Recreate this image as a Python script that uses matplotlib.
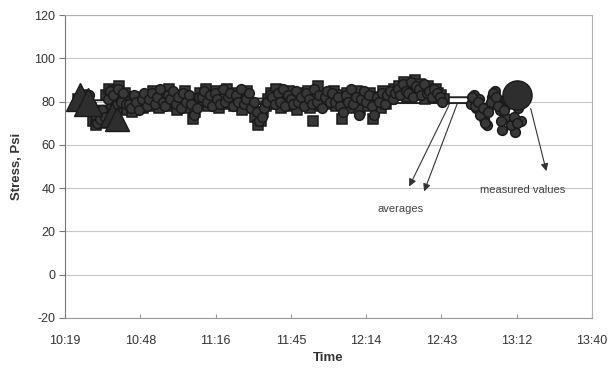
import matplotlib
matplotlib.use('Agg')
import matplotlib.pyplot as plt
from matplotlib.ticker import FixedLocator, FuncFormatter
import numpy as np

plt.rcParams['font.family'] = ['Liberation Sans', 'DejaVu Sans']
plt.rcParams['axes.unicode_minus'] = False

# datos (tiempo en minutos desde medianoche, esfuerzo en psi)
t_inicio = 624
medidos = [81, 78, 83, 76, 80, 77,
           71, 69, 73, 70, 75,
           83, 86, 79, 85, 77, 87, 82, 84,
           76, 80, 75, 82, 78, 81, 77, 79,
           83, 78, 85, 80, 77, 84, 81, 79, 86, 78, 82, 76, 83, 80, 85, 77, 81,
           72, 75, 79,
           84, 80, 86, 78, 83, 81, 85, 77, 82, 79, 86, 80, 83, 78, 84, 81, 76, 82, 85, 79, 77,
           73, 69, 71, 75, 78, 81,
           84, 79, 86, 81, 77, 83, 80, 85, 78, 82, 76, 84, 81, 79, 85, 77, 71, 80, 87, 78, 82, 79, 84,
           81, 85, 78, 83, 72, 80, 84, 77, 82, 79, 85, 76, 81, 83, 78, 84, 72, 80, 82, 77, 85, 79, 83, 81, 86,
           83, 87, 84, 89, 82, 86, 85, 90, 83, 88, 84, 81, 87, 85, 82, 86, 84, 83, 81]
# segunda serie, intercalada medio minuto despues
t_inicio2 = 624.5
medidos2 = [79, 82, 77, 80, 83, 75,
            74, 70, 72, 76, 73,
            81, 85, 83, 78, 86, 80, 84, 79,
            79, 77, 83, 80, 76, 81, 84, 78,
            81, 84, 79, 82, 86, 80, 78, 83, 81, 85, 79, 82, 77, 84, 80, 83, 79,
            74, 77, 82,
            82, 85, 80, 83, 78, 84, 81, 79, 86, 80, 82, 84, 78, 83, 80, 86, 79, 81, 84, 77, 80,
            75, 71, 73, 77, 80, 83,
            82, 79, 84, 80, 86, 78, 83, 81, 79, 85, 80, 82, 78, 84, 81, 79, 86, 80, 83, 77, 82, 85, 80,
            84, 80, 82, 78, 75, 83, 80, 86, 79, 82, 74, 81, 85, 80, 83, 78, 74, 82, 80, 84, 79, 83, 85, 81, 84,
            86, 83, 88, 85, 84, 89, 82, 87, 86, 83, 88, 84, 85, 82, 86, 84, 82, 80]
t_circ = 774.5
circulos = [79, 83, 77, 81, 75, 72, 69, 78, 82, 85, 80, 76, 67, 73, 79, 84, 70, 66, 77, 71]
t_circ2 = 775
circulos2 = [82, 78, 80, 74, 77, 70, 75, 80, 84, 82, 78, 71, 76, 81, 83, 69, 73, 70]
triang_t = [625, 628, 637, 639]
triang_v = [82, 80, 74, 72]
grande_t = [792]
grande_v = [83]
prom_t = [624, 660, 700, 740, 775]
prom1 = [80.5, 81, 81.5, 82, 82]
prom2 = [78, 78.5, 79, 79.3, 79.3]

ticks_dia = [0.43, 0.45, 0.47, 0.49, 0.51, 0.53, 0.55, 0.57]


def a_dia(minutos):
    return np.asarray(minutos, dtype=float) / 1440.0


def formato_hora(x, pos):
    # excel trunca los minutos
    m = int(np.floor(x * 1440 + 1e-6))
    return f'{m // 60}:{m % 60:02d}'


fig = plt.figure(figsize=(6.1, 3.76), dpi=100)
ax = fig.add_axes([0.1066, 0.1543, 0.8639, 0.8058])

ax.set_xlim(0.43, 0.57)
ax.set_ylim(-20, 120)
ax.yaxis.set_major_locator(FixedLocator(range(-20, 121, 20)))
ax.xaxis.set_major_locator(FixedLocator(ticks_dia))
ax.xaxis.set_major_formatter(FuncFormatter(formato_hora))
ax.grid(axis='y', color='#c8c8c8', lw=0.8)
ax.set_axisbelow(True)

for s in ['top', 'right']:
    ax.spines[s].set_color('#b0b0b0')
ax.spines['left'].set_color('#777777')
ax.spines['bottom'].set_color('#999999')
ax.tick_params(axis='y', direction='out', length=4, color='#777777',
               labelsize=9, labelcolor='#333333', pad=3)
ax.tick_params(axis='x', direction='in', length=3, color='#999999',
               labelsize=9, labelcolor='#333333', pad=12)

# promedios (lineas que quedan tapadas salvo en el hueco)
ax.plot(a_dia(prom_t), prom1, color='#222222', lw=1.4, zorder=2)
ax.plot(a_dia(prom_t), prom2, color='#222222', lw=1.4, zorder=2)

estilo = dict(ls='none', mfc='#383838', mec='#1a1a1a', mew=1.1, zorder=3)
tm = t_inicio + np.arange(len(medidos))
ax.plot(a_dia(tm), medidos, marker='s', ms=7, **estilo)
tm2 = t_inicio2 + np.arange(len(medidos2))
ax.plot(a_dia(tm2), medidos2, marker='o', ms=7, **estilo)
tc = t_circ + np.arange(len(circulos))
ax.plot(a_dia(tc), circulos, marker='o', ms=7, **estilo)
tc2 = t_circ2 + np.arange(len(circulos2))
ax.plot(a_dia(tc2), circulos2, marker='o', ms=7, **estilo)
ax.plot(a_dia(triang_t[:2]), triang_v[:2], ls='none', marker='^', ms=20, mfc='#2e2e2e',
        mec='#1a1a1a', zorder=4)
ax.plot(a_dia(triang_t[2:]), triang_v[2:], ls='none', marker='^', ms=17, mfc='#2e2e2e',
        mec='#1a1a1a', zorder=4)
ax.plot(a_dia(grande_t), grande_v, ls='none', marker='o', ms=21, mfc='#2e2e2e',
        mec='#1a1a1a', zorder=4)

flecha = dict(arrowstyle='-|>', color='#333333', lw=0.8, mutation_scale=11)
ax.annotate('', xy=(a_dia(750.4), 39.6), xytext=(a_dia(766.5), 79.3), arrowprops=flecha)
ax.annotate('', xy=(a_dia(756.2), 37.3), xytext=(a_dia(769.6), 80.2), arrowprops=flecha)
ax.annotate('', xy=(a_dia(803.6), 46.6), xytext=(a_dia(797.1), 78.0), arrowprops=flecha)
ax.text(a_dia(747.4), 30.4, 'averages', fontsize=8, color='#444444', ha='center', va='center')
ax.text(a_dia(794.4), 39.1, 'measured values', fontsize=8, color='#444444', ha='center', va='center')

ax.set_xlabel('Time', fontsize=9.5, fontweight='bold', color='#333333', labelpad=4)
ax.set_ylabel('Stress, Psi', fontsize=9.5, fontweight='bold', color='#333333', labelpad=8)

plt.savefig('out.png', dpi=100)
